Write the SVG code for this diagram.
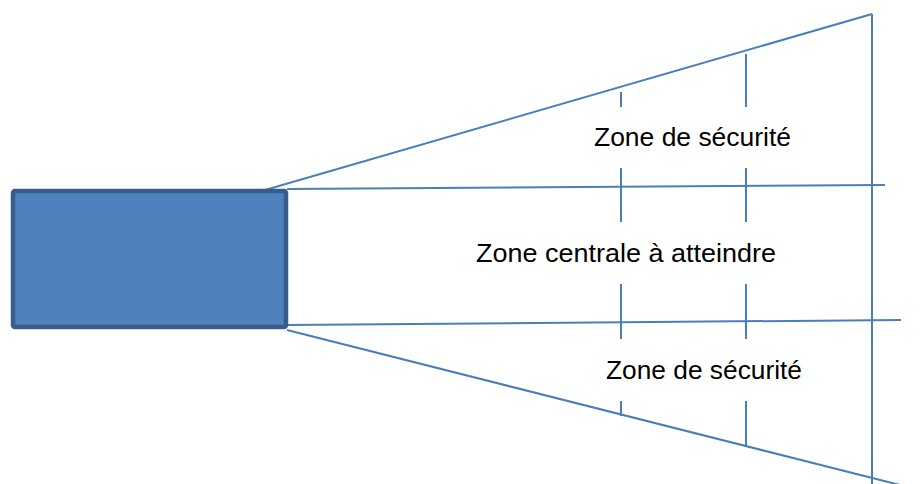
<svg xmlns="http://www.w3.org/2000/svg" width="924" height="484" viewBox="0 0 924 484">
<style>
.ln{stroke:#4a7ebb;stroke-width:2;fill:none}
.lbl{font-family:"Liberation Sans",Arial,sans-serif;font-size:26px;fill:#000}
</style>
<rect width="924" height="484" fill="#fff"/>
<g id="connectors">
<line class="ln" x1="265" y1="190" x2="872" y2="14"/>
<line class="ln" x1="287" y1="189" x2="885" y2="185"/>
<line class="ln" x1="287" y1="325" x2="901" y2="320"/>
<line class="ln" x1="287" y1="330" x2="900" y2="485"/>
<line class="ln" x1="872" y1="14" x2="872" y2="484"/>
<line class="ln" x1="621" y1="92" x2="621" y2="107"/>
<line class="ln" x1="621" y1="168" x2="621" y2="222"/>
<line class="ln" x1="621" y1="284" x2="621" y2="339"/>
<line class="ln" x1="621" y1="401" x2="621" y2="416"/>
<line class="ln" x1="746" y1="54" x2="746" y2="107"/>
<line class="ln" x1="746" y1="168" x2="746" y2="222"/>
<line class="ln" x1="746" y1="284" x2="746" y2="339"/>
<line class="ln" x1="746" y1="401" x2="746" y2="446"/>
</g>
<g id="source">
<rect x="13" y="191" width="273" height="136" rx="2" fill="#4f81bd" stroke="#385d8a" stroke-width="4.5"/>
</g>
<g id="zone-top">
<text class="lbl" x="594" y="146" textLength="197" lengthAdjust="spacingAndGlyphs">Zone de sécurité</text>
</g>
<g id="zone-center">
<text class="lbl" x="476" y="262" textLength="300" lengthAdjust="spacingAndGlyphs">Zone centrale à atteindre</text>
</g>
<g id="zone-bottom">
<text class="lbl" x="606" y="379" textLength="196" lengthAdjust="spacingAndGlyphs">Zone de sécurité</text>
</g>
</svg>
